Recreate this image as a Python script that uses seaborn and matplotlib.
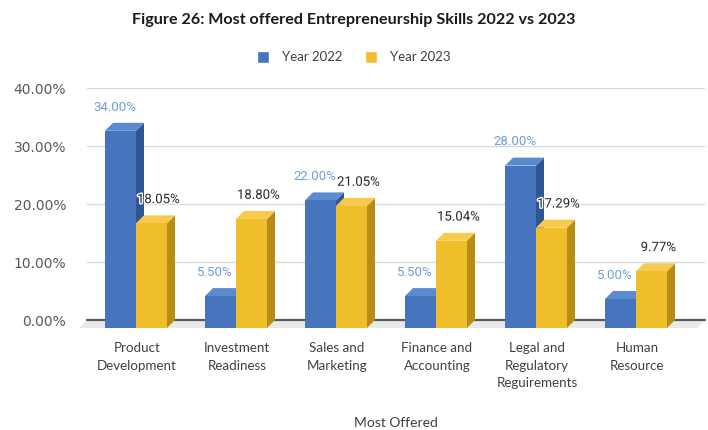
import matplotlib
matplotlib.use("Agg")
import matplotlib.pyplot as plt
import matplotlib.patheffects as pe
from matplotlib.patches import Polygon, Rectangle
from matplotlib.transforms import ScaledTranslation
import numpy as np
import pandas as pd
import seaborn as sns

# ---- data ----
skills = ["Product\nDevelopment", "Investment\nReadiness", "Sales and\nMarketing",
          "Finance and\nAccounting", "Legal and\nRegulatory\nReguirements", "Human\nResource"]
years = ["Year 2022", "Year 2023"]
values_2022 = [34.00, 5.50, 22.00, 5.50, 28.00, 5.00]
values_2023 = [18.05, 18.80, 21.05, 15.04, 17.29, 9.77]
y_ticks = [0, 10, 20, 30, 40]

df = pd.DataFrame({
    "skill": skills * 2,
    "year": [years[0]] * len(skills) + [years[1]] * len(skills),
    "value": values_2022 + values_2023,
})

# face colours: front, side, top
BLUE = ("#4674bd", "#2f5593", "#5c8ad0")
GOLD = ("#f0bd2b", "#b88d15", "#f6cb4d")

sns.set_theme(style="white")
plt.rcParams["font.family"] = ["DejaVu Sans"]

W, H = 708, 430
fig = plt.figure(figsize=(W / 100, H / 100), dpi=100)
left_px, right_px, top_px, bottom_px = 87, 705, 88, 320
ax = fig.add_axes([left_px / W, 1 - bottom_px / H,
                   (right_px - left_px) / W, (bottom_px - top_px) / H])

sns.barplot(data=df, x="skill", y="value", hue="year", order=skills, hue_order=years,
            palette=[BLUE[0], GOLD[0]], width=0.62, dodge=True, legend=False,
            saturation=1, ax=ax, zorder=3)

xmin, xmax = -0.57, 5.61
ymin, ymax = 0, 40
ax.set_xlim(xmin, xmax)
ax.set_ylim(ymin, ymax)

# depth of the 3-D bars, in pixels, converted to data units
depth_px = 8.0
ddx = depth_px * (xmax - xmin) / (right_px - left_px)
ddy = depth_px * (ymax - ymin) / (bottom_px - top_px)

# back-wall gridlines
for t in y_ticks[1:]:
    ax.axhline(t, color="#d9d9d9", lw=1.0, zorder=0)

# floor of the 3-D plot
floor = Polygon([(xmin, 0), (xmax, 0), (xmax - ddx, -ddy), (xmin - ddx, -ddy)],
                closed=True, facecolor="#e9e9e9", edgecolor="none",
                clip_on=False, zorder=0.5)
ax.add_patch(floor)
ax.plot([xmin, xmax], [0, 0], color="#595959", lw=1.6, zorder=1, clip_on=False)

bars = [p for p in ax.patches if isinstance(p, Rectangle) and p is not floor]
n = len(skills)
for i, bar in enumerate(bars):
    cols = BLUE if i < n else GOLD
    z = 3 if i < n else 4
    x0, w, h = bar.get_x(), bar.get_width(), bar.get_height()
    # front face: shift the seaborn bar forward
    bar.set_x(x0 - ddx)
    bar.set_y(-ddy)
    bar.set_clip_on(False)
    bar.set_zorder(z + 0.2)
    bar.set_edgecolor("none")
    side = Polygon([(x0 + w - ddx, -ddy), (x0 + w, 0), (x0 + w, h), (x0 + w - ddx, h - ddy)],
                   closed=True, facecolor=cols[1], edgecolor="none", clip_on=False, zorder=z)
    top = Polygon([(x0 - ddx, h - ddy), (x0, h), (x0 + w, h), (x0 + w - ddx, h - ddy)],
                  closed=True, facecolor=cols[2], edgecolor="none", clip_on=False, zorder=z + 0.1)
    ax.add_patch(side)
    ax.add_patch(top)
    label = f"{h:.2f}%"
    cx = x0 - ddx + w / 2
    if i < n:
        ax.text(cx - 0.06, h + 2.7, label, ha="center", va="center", fontsize=9.5,
                family="Roboto", color="#6f9fd8", zorder=6)
    else:
        ax.text(cx + 0.07, h + 2.7, label, ha="center", va="center", fontsize=9.5,
                family="Roboto", color="#262626", zorder=6,
                path_effects=[pe.withStroke(linewidth=2, foreground="white")])

# axes styling
for s in ax.spines.values():
    s.set_visible(False)
ax.set_yticks(y_ticks)
ax.set_yticklabels([f"{t:.2f}%" for t in y_ticks], fontsize=10, color="#595959")
ax.tick_params(axis="y", length=0, pad=15)
ax.tick_params(axis="x", length=0, pad=16)
ax.set_xticks(range(n))
ax.set_xticklabels(skills, family="Lato", fontsize=9.6, color="#404040", linespacing=1.55)
shift = ScaledTranslation(-7 / 100, 0, fig.dpi_scale_trans)
for lab in ax.get_xticklabels():
    lab.set_transform(lab.get_transform() + shift)
ax.set_xlabel("Most Offered", family="Lato", fontsize=10, color="#404040", labelpad=20)
ax.set_ylabel("")

# title and legend
fig.text(0.5, 1 - 20 / H, "Figure 26: Most offered Entrepreneurship Skills 2022 vs 2023",
         ha="center", va="center", family="Lato", fontweight="bold", fontsize=11.6, color="#1a1a1a")
handles = [Rectangle((0, 0), 1, 1, facecolor=BLUE[0]), Rectangle((0, 0), 1, 1, facecolor=GOLD[0])]
fig.legend(handles, years, loc="center", bbox_to_anchor=(0.5, 1 - 57 / H), ncol=2,
           frameon=False, prop={"family": "Lato", "size": 9.5}, labelcolor="#404040",
           handlelength=0.9, handleheight=1.1, columnspacing=1.7, handletextpad=1.0)

fig.savefig("out.png", dpi=100)
